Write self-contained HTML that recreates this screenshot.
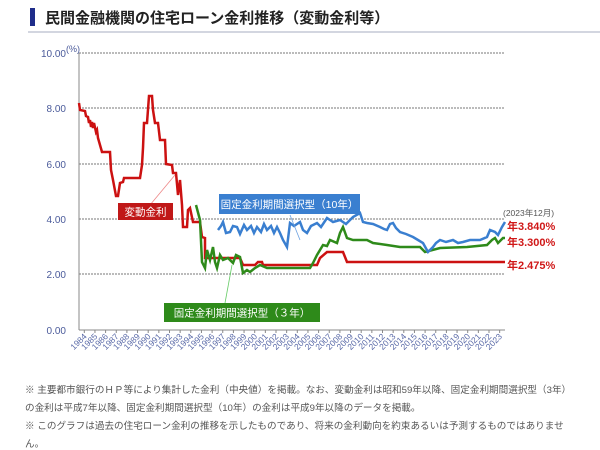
<!DOCTYPE html>
<html><head><meta charset="utf-8"><style>
body{margin:0;width:600px;height:450px;background:#fff;font-family:"Liberation Sans","Noto Sans CJK JP",sans-serif;overflow:hidden;position:relative}
.t{position:absolute;left:45px;top:7px;font-size:15px;font-weight:bold;color:#222}
.bar{position:absolute;left:30px;top:8px;width:5px;height:18px;background:#1f2d8a}
.sep{position:absolute;left:28px;top:31px;width:572px;height:2px;background:#d3d6e0}
.n{position:absolute;left:25px;font-size:9.6px;color:#555;white-space:nowrap}
</style></head><body>
<div class="bar"></div><div class="t">民間金融機関の住宅ローン金利推移（変動金利等）</div><div class="sep"></div>
<svg width="600" height="450" style="position:absolute;left:0;top:0" font-family="Liberation Sans, Noto Sans CJK JP, sans-serif">
<g stroke="#777" stroke-dasharray="2,1" stroke-width="1">
<line x1="79" y1="53" x2="505" y2="53"/><line x1="79" y1="108" x2="505" y2="108"/><line x1="79" y1="164" x2="505" y2="164"/><line x1="79" y1="219" x2="505" y2="219"/><line x1="79" y1="274" x2="505" y2="274"/></g>
<line x1="79" y1="53" x2="79" y2="330" stroke="#888"/><line x1="79" y1="330" x2="505" y2="330" stroke="#888"/>
<g id="ticks" stroke="#888"></g>
<g font-size="10" fill="#4a5a9a" text-anchor="end">
<text x="66" y="57">10.00</text><text x="66" y="112">8.00</text><text x="66" y="168">6.00</text><text x="66" y="223">4.00</text><text x="66" y="278">2.00</text><text x="66" y="334">0.00</text></g>
<text x="66" y="52" font-size="9" fill="#4a5a9a">(%)</text>
<g id="yrs" font-size="8.5" fill="#5a6aa8" text-anchor="end"></g>
<polyline fill="none" stroke="#cc1111" stroke-width="2.5" points="79,103 80,110 85,111 86,116 88,117 89,123 90,120 91,127 92,122 93,128 94,123 96,132 97,130 98,138 102,152 110,152 111,170 113,180 116,196 118,196 120,183 123,182 124,178 140,178 142,165 143,148 144,123 147,123 149,96 152,96 153,110 155,123 158,123 160,140 165,140 166,164 172,165 173,173 176,173 178,195 180,180 182,205 183,227 187,227 188,210 190,208 193,222 200,222 202,237 205,238 205,258 240,258 243,265 255,265 258,262 262,262 263,265 317,265 320,258 327,252 343,252 347,262 505,262"/>
<polyline fill="none" stroke="#2e8a1a" stroke-width="2.5" points="196,205 200,220 202,262 205,268 207,250 210,260 213,247 215,262 217,268 220,255 223,260 228,258 233,263 236,255 240,257 243,273 247,270 250,272 255,268 260,265 267,268 310,268 313,263 317,255 323,245 327,246 330,240 337,243 340,233 343,227 347,238 353,240 367,240 373,243 387,245 400,247 420,247 425,252 440,248 467,247 487,245 492,240 495,238 498,243 503,238 505,238"/>
<polyline fill="none" stroke="#3a7fd0" stroke-width="2.5" points="218,230 221,226 223,222 226,233 230,232 233,226 237,227 240,234 244,225 247,230 251,226 254,233 257,227 261,232 264,224 267,230 271,226 274,233 277,227 280,233 283,240 287,247 290,223 294,226 300,222 303,230 307,233 311,226 317,223 321,227 327,218 333,222 340,220 346,224 353,217 360,213 363,222 367,223 373,224 380,227 384,229 387,230 390,224 393,223 396,228 400,232 406,234 413,237 418,240 423,243 428,252 433,247 436,243 440,240 446,242 453,240 458,243 463,242 470,240 480,240 487,237 490,230 495,232 498,235 502,227 505,222"/>
<line x1="150" y1="205" x2="175" y2="175" stroke="#e88" stroke-width="0.8"/>
<line x1="290" y1="215" x2="300" y2="240" stroke="#6aa0e0" stroke-width="0.8"/>
<line x1="225" y1="303" x2="232" y2="265" stroke="#6c6" stroke-width="0.8"/>
<rect x="118" y="203" width="55" height="17" fill="#c01818"/><text x="145.5" y="215.5" font-size="10.5" fill="#fff" text-anchor="middle">変動金利</text>
<rect x="219" y="194" width="141" height="20" fill="#3a7fd0"/><text x="289.5" y="208" font-size="10.5" fill="#fff" text-anchor="middle">固定金利期間選択型（10年）</text>
<rect x="164" y="303" width="156" height="19" fill="#2e8a1a"/><text x="242" y="316.5" font-size="10.5" fill="#fff" text-anchor="middle">固定金利期間選択型（３年）</text>
<text x="503" y="216" font-size="8.5" fill="#555">(2023年12月)</text>
<g font-size="11" font-weight="bold" fill="#d01818"><text x="507" y="230">年3.840%</text><text x="507" y="246">年3.300%</text><text x="507" y="269">年2.475%</text></g>
</svg>
<script>
var t=document.getElementById('ticks'),y=document.getElementById('yrs'),s='',u='';
for(var i=0;i<40;i++){var x=79+i*10.65+5.3;s+='<line x1="'+x+'" y1="330" x2="'+x+'" y2="333"/>';u+='<text transform="translate('+(x+3)+',337) rotate(-45)">'+(1984+i)+'</text>';}
t.innerHTML=s;y.innerHTML=u;
</script>
<div class="n" style="top:382px">※ 主要都市銀行のＨＰ等により集計した金利（中央値）を掲載。なお、変動金利は昭和59年以降、固定金利期間選択型（3年）</div>
<div class="n" style="top:400px">の金利は平成7年以降、固定金利期間選択型（10年）の金利は平成9年以降のデータを掲載。</div>
<div class="n" style="top:418px">※ このグラフは過去の住宅ローン金利の推移を示したものであり、将来の金利動向を約束あるいは予測するものではありませ</div>
<div class="n" style="top:436px">ん。</div>
</body></html>
